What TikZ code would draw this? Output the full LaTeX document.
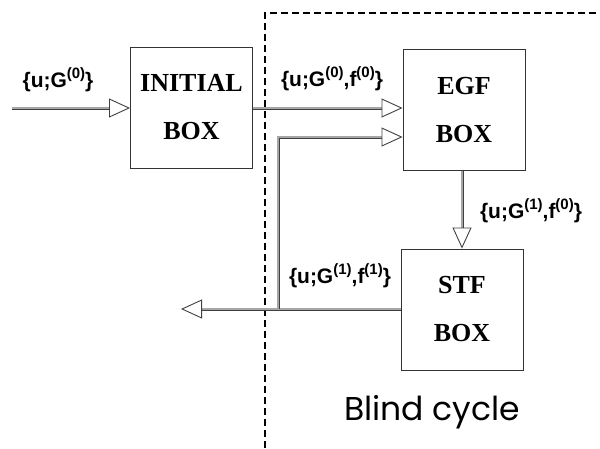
\documentclass[tikz,border=0pt]{standalone}
\usepackage{fontspec}
\setmainfont{Liberation Serif}
\newfontfamily\lblfont{Liberation Sans}
\newfontfamily\capfont{Poppins}
\usetikzlibrary{arrows.meta}
\newcommand{\upidx}[1]{\raisebox{0.42em}{\fontsize{15}{15}\selectfont(#1)}}
\tikzset{
  x=1pt, y=-1pt,
  blockbox/.style={draw=black!80, line width=0.9pt, fill=white,
    minimum width=122pt, minimum height=121pt, align=center,
    font=\bfseries\fontsize{26}{48}\selectfont},
  flow/.style={draw=black!75, line width=0.7pt, double=black!35,
    double distance=1.6pt},
  flowtip/.style={flow, -{Triangle[open, length=21pt, width=19pt, line width=0.9pt]}},
  lbl/.style={font=\lblfont\bfseries\fontsize{21}{21}\selectfont, inner sep=0pt},
  border/.style={line width=1.5pt, dash pattern=on 7pt off 4pt}
}
\begin{document}
\begin{tikzpicture}
\useasboundingbox (0,0) rectangle (600,448);
% cycle boundary
\draw[border] (265,448) -- (265,13) -- (600,13);

% blocks
\node[blockbox] (init) at (191.5,107.5) {INITIAL\\BOX};
\node[blockbox] (egf) at (464,110) {EGF\\BOX};
\node[blockbox] (stf) at (462,309.5) {STF\\BOX};

% connector end points
\coordinate (src) at (12,108);
\coordinate (out) at (181,309);
\coordinate (split) at (278,309);
\coordinate (bend) at (278,137);

% flows
\draw[flowtip] (src) -- (init.west |- src);
\draw[flowtip] (init.east |- src) -- (egf.west |- src);
\draw[flow] (stf.west |- split) -- (split);
\draw[flowtip] (split) -- (out);
\draw[flowtip] (split) -- (bend) -- (egf.west |- bend);
\draw[flowtip] (egf.south -| 462,0) -- (stf.north);

% labels
\node[lbl] (l0) at (58,80) {\{u;G\upidx{0}\}};
\node[lbl] (l1) at (332,79) {\{u;G\upidx{0},f\upidx{0}\}};
\node[lbl] (l2) at (531,211) {\{u;G\upidx{1},f\upidx{0}\}};
\node[lbl] (l3) at (340,276) {\{u;G\upidx{1},f\upidx{1}\}};
\node[font=\capfont\fontsize{33}{33}\selectfont, inner sep=0pt] (cap) at (432,412) {Blind cycle};
\end{tikzpicture}
\end{document}
